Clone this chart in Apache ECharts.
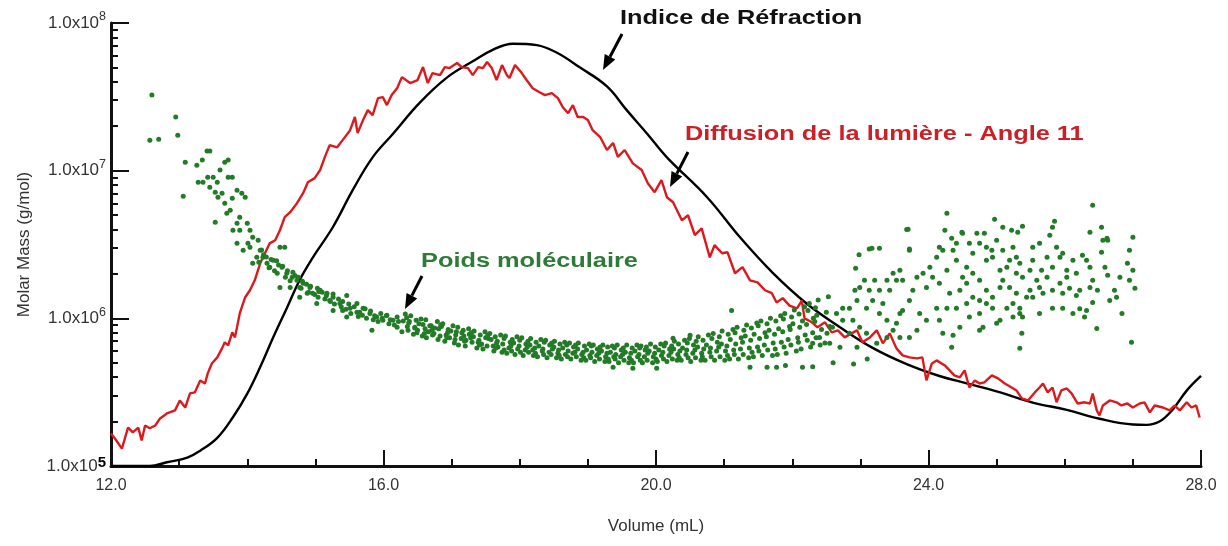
<!DOCTYPE html>
<html><head><meta charset="utf-8">
<script src="https://cdn.jsdelivr.net/npm/echarts@6/dist/echarts.min.js"></script>
<style>html,body{margin:0;padding:0;background:#fff}#c{width:1228px;height:546px}</style>
</head><body><div id="c"></div>
<script>
// ---------- data (Volume mL, Molar mass g/mol) ----------
const xTickValues = [12, 16, 20, 24, 28];
const yDecades = [1e5, 1e6, 1e7, 1e8];

const riCurve = [
[12.0,1.0e5],[12.57,1.0e5],[12.82,1.06e5],[13.12,1.14e5],[13.31,1.27e5],[13.56,1.55e5],[13.79,2.14e5],
[14.00,3.09e5],[14.19,4.68e5],[14.38,7.41e5],[14.58,1.17e6],[14.77,1.82e6],[14.96,2.57e6],[15.26,4.17e6],
[15.55,7.41e6],[15.84,1.23e7],[16.14,1.78e7],[16.53,2.88e7],[16.93,4.27e7],[17.31,5.50e7],[17.61,6.61e7],
[17.90,7.24e7],[18.25,7.08e7],[18.54,6.31e7],[18.88,5.01e7],[19.28,3.72e7],[19.57,2.57e7],[19.87,1.78e7],
[20.16,1.23e7],[20.75,6.61e6],[21.23,3.55e6],[21.71,2.04e6],[22.21,1.26e6],[22.70,8.71e5],[23.18,6.31e5],
[23.68,4.90e5],[24.16,4.07e5],[24.56,3.63e5],[25.04,3.16e5],[25.53,2.69e5],[26.03,2.40e5],[26.51,2.09e5],
[27.00,1.91e5],[27.20,1.90e5],[27.39,2.00e5],[27.58,2.40e5],[27.79,3.24e5],[28.0,4.07e5]
];

const lsCurve = [
[12.0,1.66e5],[12.06,1.53e5],[12.16,1.31e5],[12.25,1.82e5],[12.32,1.69e5],[12.40,1.82e5],[12.45,1.49e5],
[12.50,1.88e5],[12.57,1.80e5],[12.65,1.88e5],[12.72,2.10e5],[12.82,2.27e5],[12.94,2.38e5],[13.01,2.78e5],
[13.09,2.49e5],[13.16,3.10e5],[13.23,3.15e5],[13.31,3.80e5],[13.38,3.62e5],[13.42,4.24e5],[13.48,4.95e5],
[13.56,5.44e5],[13.63,6.26e5],[13.67,6.88e5],[13.72,6.56e5],[13.78,8.04e5],[13.82,7.43e5],[13.89,1.08e6],
[13.97,1.39e6],[14.04,1.55e6],[14.11,1.81e6],[14.19,2.36e6],[14.26,2.76e6],[14.33,3.22e6],[14.41,3.38e6],
[14.48,3.95e6],[14.55,4.84e6],[14.63,5.23e6],[14.73,6.02e6],[14.82,7.04e6],[14.89,8.35e6],[14.99,8.90e6],
[15.07,1.01e7],[15.14,1.24e7],[15.21,1.49e7],[15.32,1.44e7],[15.40,1.61e7],[15.51,1.88e7],[15.58,2.31e7],
[15.62,1.80e7],[15.70,2.20e7],[15.77,2.57e7],[15.84,2.38e7],[15.92,3.10e7],[15.99,3.15e7],[16.05,2.78e7],
[16.12,3.25e7],[16.20,3.62e7],[16.27,4.30e7],[16.39,3.92e7],[16.50,4.11e7],[16.58,5.03e7],[16.65,3.92e7],
[16.72,4.58e7],[16.83,4.44e7],[16.90,5.03e7],[16.97,4.95e7],[17.08,5.36e7],[17.15,5.03e7],[17.24,4.95e7],
[17.31,4.44e7],[17.39,5.03e7],[17.46,4.95e7],[17.52,5.44e7],[17.59,4.95e7],[17.66,4.11e7],[17.74,5.19e7],
[17.81,4.44e7],[17.85,4.24e7],[17.93,5.19e7],[18.03,4.58e7],[18.10,4.11e7],[18.19,3.62e7],[18.29,3.40e7],
[18.37,3.25e7],[18.47,3.35e7],[18.56,3.10e7],[18.63,2.70e7],[18.71,2.45e7],[18.78,2.78e7],[18.85,2.31e7],
[18.93,2.31e7],[19.00,2.20e7],[19.07,1.88e7],[19.18,1.69e7],[19.28,1.38e7],[19.37,1.54e7],[19.44,1.24e7],
[19.54,1.38e7],[19.66,1.12e7],[19.79,1.01e7],[19.88,8.22e6],[19.98,7.15e6],[20.08,8.63e6],[20.16,6.61e6],
[20.25,6.11e6],[20.38,4.61e6],[20.47,4.99e6],[20.57,3.66e6],[20.67,4.07e6],[20.79,2.59e6],[20.86,3.13e6],
[20.97,2.76e6],[21.05,2.80e6],[21.16,2.02e6],[21.27,2.22e6],[21.38,1.81e6],[21.49,1.75e6],[21.60,1.55e6],
[21.70,1.48e6],[21.77,1.28e6],[21.86,1.37e6],[21.96,1.22e6],[22.07,1.17e6],[22.14,1.32e6],[22.18,1.00e6],
[22.29,9.40e5],[22.37,8.69e5],[22.48,9.40e5],[22.58,8.04e5],[22.67,8.29e5],[22.77,7.43e5],[22.87,7.91e5],
[22.95,8.29e5],[23.03,6.88e5],[23.14,7.43e5],[23.24,8.29e5],[23.33,6.77e5],[23.43,7.91e5],[23.53,6.26e5],
[23.62,5.61e5],[23.72,5.44e5],[23.83,5.36e5],[23.91,5.44e5],[23.97,3.80e5],[24.05,4.95e5],[24.12,5.19e5],
[24.24,4.80e5],[24.31,4.44e5],[24.38,4.11e5],[24.46,3.98e5],[24.53,4.44e5],[24.60,3.40e5],[24.68,3.80e5],
[24.75,3.62e5],[24.82,3.68e5],[24.93,4.11e5],[25.02,3.92e5],[25.12,3.62e5],[25.22,3.40e5],[25.29,3.25e5],
[25.37,2.87e5],[25.46,2.78e5],[25.56,3.15e5],[25.63,3.40e5],[25.68,3.62e5],[25.75,3.15e5],[25.82,3.40e5],
[25.88,2.70e5],[25.95,3.25e5],[26.03,3.35e5],[26.10,3.10e5],[26.19,2.65e5],[26.29,2.70e5],[26.37,2.65e5],
[26.41,3.10e5],[26.47,2.38e5],[26.51,2.20e5],[26.56,2.57e5],[26.66,2.78e5],[26.76,2.70e5],[26.83,2.57e5],
[26.92,2.65e5],[27.00,2.49e5],[27.10,2.65e5],[27.17,2.70e5],[27.25,2.31e5],[27.32,2.57e5],[27.44,2.49e5],
[27.54,2.38e5],[27.61,2.57e5],[27.69,2.38e5],[27.79,2.70e5],[27.86,2.49e5],[27.93,2.57e5],[27.98,2.13e5]
];

const mwEarly = [
[12.60,3.25e7],[12.57,1.61e7],[12.70,1.63e7],[12.95,2.31e7],[12.98,1.74e7],[13.09,1.14e7],[13.06,6.71e6],
[13.26,1.09e7],[13.34,1.18e7],[13.41,1.36e7],[13.45,1.36e7],[13.28,8.35e6],[13.35,8.35e6],[13.42,9.04e6],
[13.50,9.04e6],[13.56,8.35e6],[13.45,7.73e6],[13.53,7.15e6],[13.57,6.61e6],[13.63,7.04e6],[13.67,1.14e7],
[13.72,1.18e7],[13.60,1.01e7],[13.72,9.04e6],[13.78,9.04e6],[13.85,7.38e6],[13.92,7.04e6],[13.97,6.61e6],
[13.78,6.51e6],[13.67,6.02e6],[13.75,5.40e6],[13.70,5.15e6],[13.53,4.48e6],[13.89,4.84e6],[13.85,4.40e6],
[13.79,3.95e6],[13.89,3.95e6],[14.00,4.40e6],[14.04,3.95e6],[14.08,3.54e6],[14.01,3.22e6],[13.85,3.22e6],
[13.94,2.89e6],[14.04,3.03e6],[14.16,3.38e6],[14.19,2.89e6],[14.14,2.59e6],[14.08,2.36e6],[14.23,2.59e6],
[14.29,2.36e6],[14.38,2.47e6],[14.48,3.03e6],[14.55,3.03e6],[14.33,2.22e6],[14.44,2.02e6],[14.51,2.22e6],
[14.48,1.62e6],[14.58,2.02e6],[14.66,1.90e6],[14.73,1.81e6],[14.77,1.62e6],[14.82,1.73e6],[14.92,1.62e6],
[14.88,1.48e6],[14.96,1.48e6],[15.04,1.39e6],[15.07,1.55e6],[15.17,1.48e6],[15.21,1.32e6],[15.26,1.39e6],
[15.36,1.26e6],[15.46,1.43e6],[15.40,1.13e6],[15.51,1.17e6],[15.61,1.26e6],[15.65,1.10e6],[15.70,1.17e6],
[15.80,1.08e6],[15.83,8.29e5],[15.90,1.02e6],[15.99,9.69e5],[16.05,1.05e6],[16.14,9.69e5],[16.20,8.69e5],
[15.46,1.02e6],[15.26,1.13e6],[15.02,1.26e6],[14.77,1.39e6],[14.63,1.62e6]
];

const mwBand = [
[14.17,2.4e6],[14.21,2.9e6],[14.24,2.7e6],[14.28,2.6e6],[14.32,2.2e6],[14.35,2.5e6],[14.40,2.1e6],[14.43,2.45e6],
[14.46,2.3e6],[14.52,2.25e6],[14.56,1.9e6],[14.59,2.1e6],[14.63,1.8e6],[14.67,2.05e6],[14.70,1.95e6],[14.75,1.9e6],
[14.79,1.6e6],[14.81,1.78e6],[14.87,1.7e6],[14.90,1.5e6],[14.93,1.65e6],[14.99,1.45e6],[15.03,1.6e6],[15.05,1.52e6],
[15.10,1.5e6],[15.14,1.35e6],[15.16,1.42e6],[15.22,1.3e6],[15.26,1.46e6],[15.28,1.25e6],[15.34,1.35e6],[15.38,1.2e6],
[15.40,1.3e6],[15.45,1.15e6],[15.49,1.25e6],[15.52,1.08e6],[15.57,1.2e6],[15.61,1.1e6],[15.63,1.03e6],[15.69,1.05e6],
[15.73,1.16e6],[15.75,1.0e6],[15.81,1.12e6],[15.85,9.8e5],[15.87,1.04e6],[15.92,9.5e5],[15.96,1.08e6],[15.98,1.0e6],
[16.04,1.04e6],[16.08,9.2e5],[16.10,9.8e5],[16.16,9.0e5],[16.20,1.02e6],[16.22,9.5e5],
[16.27,8.1e5],[16.32,1.07e6],[16.29,9.6e5],[16.35,8.8e5],[16.38,9.5e5],[16.44,7.8e5],[16.40,1.04e6],[16.46,8.7e5],
[16.50,8.3e5],[16.55,9.9e5],[16.57,7.6e5],[16.52,9.2e5],[16.62,9.8e5],[16.66,8.1e5],[16.68,8.9e5],[16.63,7.4e5],
[16.74,7.9e5],[16.79,9.5e5],[16.75,8.6e5],[16.80,7.2e5],[16.85,8.8e5],[16.90,7.0e5],[16.87,9.2e5],[16.92,7.7e5],
[16.97,7.4e5],[17.02,8.9e5],[17.04,6.8e5],[16.99,8.2e5],[17.09,8.7e5],[17.14,7.3e5],[17.10,6.6e5],[17.15,8.0e5],
[17.21,7.1e5],[17.25,8.5e5],[17.26,7.8e5],[17.20,6.5e5],[17.33,8.2e5],[17.37,6.3e5],[17.32,7.5e5],[17.39,6.9e5],
[17.44,6.7e5],[17.49,8.1e5],[17.46,6.2e5],[17.50,7.4e5],[17.56,7.9e5],[17.61,6.5e5],[17.58,7.2e5],[17.62,6.0e5],
[17.68,6.4e5],[17.72,7.7e5],[17.67,7.0e5],[17.74,5.9e5],[17.79,7.6e5],[17.84,6.3e5],[17.81,5.8e5],[17.86,6.9e5],
[17.91,6.8e5],[17.96,7.5e5],[17.93,5.7e5],[17.97,6.2e5],[18.03,7.4e5],[18.08,6.1e5],[18.05,5.6e5],[18.09,6.7e5],
[18.15,6.6e5],[18.20,5.6e5],[18.16,7.3e5],[18.19,6.1e5],[18.26,5.5e5],[18.31,7.2e5],[18.28,6.5e5],[18.33,6.0e5],
[18.38,7.1e5],[18.43,5.9e5],[18.40,5.4e5],[18.44,6.6e5],[18.50,6.4e5],[18.54,5.4e5],[18.51,7.0e5],[18.56,5.8e5],
[18.61,5.3e5],[18.66,6.9e5],[18.63,6.3e5],[18.67,5.7e5],[18.73,6.8e5],[18.78,5.8e5],[18.75,5.3e5],[18.79,6.4e5],
[18.85,6.2e5],[18.90,5.2e5],[18.86,6.8e5],[18.91,5.7e5],[18.97,5.2e5],[19.02,6.7e5],[18.98,6.1e5],[19.03,5.6e5],
[19.08,6.6e5],[19.13,5.6e5],[19.10,5.1e5],[19.14,6.2e5],[19.20,6.0e5],[19.25,5.1e5],[19.22,6.6e5],[19.26,5.5e5],
[19.31,5.1e5],[19.36,6.5e5],[19.33,5.9e5],[19.38,5.5e5],[19.43,6.6e5],[19.48,5.5e5],[19.45,5.0e5],[19.49,6.1e5],
[19.55,5.9e5],[19.60,5.0e5],[19.57,6.6e5],[19.61,5.4e5],[19.67,5.0e5],[19.72,6.6e5],[19.69,6.0e5],[19.73,5.5e5],
[19.78,6.5e5],[19.83,5.5e5],[19.80,5.0e5],[19.84,6.1e5],[19.90,6.0e5],[19.95,5.0e5],[19.92,6.7e5],[19.96,5.5e5],
[20.02,5.1e5],[20.07,6.7e5],[20.04,6.1e5],[20.08,5.6e5],[20.14,6.8e5],[20.19,5.6e5],[20.16,5.1e5],[20.20,6.2e5],
[20.26,6.2e5],[20.31,5.2e5],[20.27,7.0e5],[20.32,5.7e5],[20.37,5.2e5],[20.42,7.1e5],[20.39,6.3e5],[20.44,5.7e5],
[20.49,7.3e5],[20.54,5.8e5],[20.51,5.1e5],[20.55,6.6e5],[20.61,6.4e5],[20.66,5.2e5],[20.62,7.5e5],[20.67,5.8e5],
[20.72,5.2e5],[20.77,7.7e5],[20.74,6.6e5],[20.79,5.9e5],[20.84,7.9e5],[20.89,6.0e5],[20.86,5.2e5],[20.90,6.9e5],
[20.96,6.7e5],[21.01,5.2e5],[20.97,8.2e5],[21.02,6.0e5],[21.08,5.3e5],[21.13,8.4e5],[21.09,7.2e5],[21.14,6.1e5],
[21.19,8.7e5],[21.24,6.2e5],[21.21,5.3e5],[21.25,7.4e5],[21.31,7.6e5],[21.36,5.4e5],[21.33,9.0e5],[21.37,6.3e5],
[21.43,5.5e5],[21.48,9.3e5],[21.44,7.8e5],[21.49,6.4e5],[21.54,9.6e5],[21.59,6.6e5],[21.56,5.6e5],[21.60,8.0e5],
[21.66,8.3e5],[21.71,5.6e5],[21.68,1.0e6],[21.72,6.8e5],[21.78,5.7e5],[21.83,1.04e6],[21.80,8.5e5],[21.84,6.9e5],
[21.89,1.08e6],[21.94,7.2e5],[21.91,5.8e5],[21.96,8.8e5],[22.01,9.2e5],[22.06,6.0e5],[22.03,1.14e6],[22.08,7.4e5],
[22.13,6.2e5],[22.18,1.2e6],[22.15,9.6e5],[22.19,7.7e5],[22.25,1.26e6],[22.30,8.0e5],[22.27,6.4e5],[22.31,1.0e6],
[22.36,1.05e6],[22.41,6.6e5],[22.38,1.33e6],[22.43,8.4e5],[22.48,6.8e5],[22.53,1.4e6],[22.50,1.1e6],[22.55,8.8e5],
[21.11,1.13e6],[19.37,4.66e5],[19.66,4.6e5],[20.01,4.6e5],[21.38,4.66e5],[21.63,4.66e5],[21.77,4.66e5],[22.15,4.66e5],
[20.25,7.32e5],[20.50,7.67e5],[22.9,4.9e5],[23.1,5.3e5],[22.6,5.0e5],[21.9,4.8e5],[22.3,4.7e5]
];

const mwBandFill = [
[16.36,8.3e5],[16.37,9.3e5],[16.34,1.01e6],[16.48,9.7e5],[16.46,8.6e5],[16.49,8.0e5],[16.60,7.9e5],[16.58,9.1e5],
[16.61,8.5e5],[16.70,8.9e5],[16.72,7.7e5],[16.71,8.3e5],[16.83,7.6e5],[16.81,8.5e5],[16.84,9.0e5],[16.95,8.4e5],
[16.93,7.4e5],[16.94,8.0e5],[17.05,7.2e5],[17.07,8.1e5],[17.06,7.7e5],[17.17,8.3e5],[17.19,7.0e5],[17.18,7.6e5],
[17.30,6.9e5],[17.28,7.4e5],[17.29,8.0e5],[17.42,7.7e5],[17.40,7.1e5],[17.41,6.6e5],[17.52,6.5e5],[17.54,7.3e5],
[17.53,7.7e5],[17.64,7.5e5],[17.66,6.8e5],[17.65,6.3e5],[17.77,6.1e5],[17.75,6.7e5],[17.77,7.3e5],[17.89,7.2e5],
[17.87,6.5e5],[17.88,6.0e5],[18.01,5.9e5],[17.99,6.5e5],[18.00,7.1e5],[18.12,7.0e5],[18.11,6.4e5],[18.13,5.9e5],
[18.23,5.8e5],[18.22,6.3e5],[18.24,6.9e5],[18.36,6.9e5],[18.34,6.2e5],[18.35,5.7e5],[18.46,5.7e5],[18.48,6.2e5],
[18.47,6.8e5],[18.59,6.7e5],[18.57,6.1e5],[18.58,5.6e5],[18.70,5.5e5],[18.71,6.0e5],[18.69,6.6e5],[18.82,6.6e5],
[18.81,5.9e5],[18.83,5.5e5],[18.94,5.4e5],[18.93,5.9e5],[18.95,6.5e5],[19.05,6.5e5],[19.06,5.9e5],[19.04,5.4e5],
[19.17,5.3e5],[19.16,5.8e5],[19.18,6.4e5],[19.29,6.4e5],[19.28,5.8e5],[19.30,5.3e5],[19.40,5.3e5],[19.41,5.7e5],
[19.39,6.3e5],[19.52,6.3e5],[19.51,5.7e5],[19.53,5.2e5],[19.64,5.2e5],[19.63,5.8e5],[19.65,6.3e5],[19.76,6.3e5],
[19.75,5.7e5],[19.77,5.2e5],[19.87,5.2e5],[19.88,5.8e5],[19.86,6.4e5],[19.99,6.4e5],[19.98,5.8e5],[20.00,5.3e5],
[20.11,5.3e5],[20.10,5.9e5],[20.12,6.5e5],[20.23,6.5e5],[20.22,5.9e5],[20.24,5.3e5],[20.34,5.4e5],[20.35,6.0e5],
[20.33,6.7e5],[20.46,6.8e5],[20.45,6.1e5],[20.47,5.4e5],[20.58,5.4e5],[20.57,6.1e5],[20.59,7.0e5],[20.69,7.1e5],
[20.70,6.2e5],[20.68,5.5e5],[20.81,5.5e5],[20.80,6.3e5],[20.82,7.3e5],[20.93,7.5e5],[20.92,6.4e5],[20.94,5.5e5],
[21.05,5.6e5],[21.04,6.5e5],[21.06,7.8e5],[21.16,8.0e5],[21.17,6.7e5],[21.15,5.7e5],[21.28,5.7e5],[21.27,6.9e5],
[21.29,8.3e5],[21.40,8.6e5],[21.39,7.1e5],[21.41,5.9e5],[21.51,6.0e5],[21.52,7.3e5],[21.50,8.9e5],[21.63,9.2e5],
[21.62,7.5e5],[21.64,6.1e5],[21.75,6.2e5],[21.74,7.8e5],[21.76,9.6e5],[21.87,9.9e5],[21.86,8.1e5],[21.88,6.4e5],
[21.98,6.6e5],[21.97,8.4e5],[21.99,1.02e6],[22.10,1.07e6],[22.11,8.7e5],[22.09,6.9e5],[22.22,7.1e5],[22.21,9.1e5],
[22.23,1.13e6],[22.34,1.18e6],[22.33,9.5e5],[22.35,7.4e5]
];

const mwCloud = [
[24.27,5.15e6],[23.70,4.01e6],[23.17,2.98e6],[23.28,2.98e6],[23.72,2.89e6],[22.93,2.18e6],[24.24,3.95e6],
[24.49,3.83e6],[24.82,3.77e6],[24.97,4.69e6],[25.09,4.14e6],[25.22,3.95e6],[25.31,3.83e6],[25.38,4.21e6],
[25.85,4.55e6],[25.82,4.14e6],[26.41,5.83e6],[26.37,3.83e6],[26.54,4.14e6],[26.56,3.38e6],[26.63,3.38e6],
[27.00,3.54e6],[26.95,2.89e6],[27.00,2.12e6],[26.95,1.81e6],[27.03,1.60e6],[26.98,6.88e5],[26.84,1.08e6],
[26.73,1.55e6],[26.63,1.96e6],[26.59,2.22e6],[26.48,1.55e6],[26.47,8.55e5],[26.41,1.28e6],[26.37,1.62e6],
[26.29,1.02e6],[26.22,1.16e6],[26.17,1.43e6],[26.26,2.67e6],[26.32,2.47e6],[26.07,1.60e6],[26.03,1.90e6],
[25.97,1.48e6],[25.93,2.59e6],[26.03,2.12e6],[25.82,2.22e6],[25.74,1.90e6],[25.66,2.12e6],[25.59,1.81e6],
[25.53,3.03e6],[25.63,3.22e6],[25.78,3.66e6],[25.49,1.55e6],[25.38,1.90e6],[25.34,2.36e6],[25.29,2.59e6],
[25.24,3.03e6],[25.15,2.22e6],[25.05,2.12e6],[25.09,1.81e6],[25.19,1.62e6],[25.24,1.26e6],[25.34,1.08e6],
[25.37,7.91e5],[25.34,6.26e5],[25.38,1.02e6],[25.63,1.08e6],[25.53,1.39e6],[24.94,2.59e6],[24.93,2.89e6],
[24.85,2.47e6],[24.75,3.22e6],[24.65,2.76e6],[24.56,2.22e6],[24.50,1.90e6],[24.46,1.55e6],[24.56,1.73e6],
[24.65,2.02e6],[24.75,1.81e6],[24.85,1.55e6],[24.94,1.17e6],[25.05,9.69e5],[25.00,9.25e5],[24.80,8.69e5],
[24.75,8.29e5],[24.60,1.02e6],[24.46,8.69e5],[24.34,6.36e5],[24.36,7.67e5],[24.21,7.91e5],[24.16,9.69e5],
[24.12,1.17e6],[24.27,1.17e6],[24.41,1.17e6],[24.31,1.48e6],[24.16,1.73e6],[24.06,1.90e6],[23.97,1.62e6],
[23.92,2.02e6],[24.02,2.22e6],[24.12,2.59e6],[24.21,2.89e6],[24.36,2.89e6],[24.41,2.47e6],[24.27,2.12e6],
[23.83,1.90e6],[23.77,1.55e6],[23.72,1.32e6],[23.62,1.13e6],[23.53,9.25e5],[23.58,1.08e6],[23.87,1.08e6],
[23.97,9.69e5],[23.83,8.29e5],[23.72,7.43e5],[23.58,7.43e5],[23.48,8.29e5],[23.39,9.69e5],[23.28,1.08e6],
[23.33,1.26e6],[23.43,1.55e6],[23.53,1.81e6],[23.58,2.12e6],[23.62,1.81e6],[23.48,2.02e6],[23.39,1.81e6],
[23.28,1.55e6],[23.21,1.81e6],[23.13,1.55e6],[23.06,1.81e6],[22.99,1.62e6],[22.92,1.55e6],[22.95,1.32e6],
[23.09,1.17e6],[23.18,1.32e6],[22.84,1.17e6],[22.74,1.17e6],[22.65,1.08e6],[22.74,9.69e5],[22.89,9.69e5],
[22.99,8.69e5],[23.09,7.91e5],[22.84,7.91e5],[22.59,8.69e5],[22.51,7.91e5],[22.40,7.43e5],[22.30,6.77e5],
[22.55,6.77e5],[22.70,6.36e5],[22.95,6.36e5],[23.24,6.77e5],[23.39,7.43e5],[26.32,1.13e6],[26.41,1.81e6],
[26.76,1.39e6],[26.81,1.90e6],[26.66,1.32e6],[26.92,2.36e6],[26.54,2.80e6],[26.62,3.48e6],[26.37,2.22e6],
[26.17,2.02e6],[26.12,2.47e6],[25.97,2.76e6],[25.88,3.03e6],[25.74,2.59e6],[25.68,1.48e6],[25.82,1.55e6],
[25.93,1.73e6],[25.53,2.47e6],[25.49,2.12e6],[25.29,2.02e6],[25.19,2.47e6],[25.09,2.89e6],[25.00,3.38e6],
[24.85,3.03e6],[24.71,3.77e6],[24.60,3.22e6],[24.50,3.77e6],[24.41,3.22e6],[24.34,3.48e6],[24.16,3.03e6],
[25.34,1.17e6],[25.44,1.39e6],[25.24,1.02e6],[25.15,1.17e6],[24.94,1.39e6],[24.85,1.26e6],[24.75,1.32e6],
[24.65,1.39e6],[24.56,1.26e6],[24.75,1.08e6],[25.82,1.17e6],[25.97,1.17e6],[26.12,1.08e6],[26.22,1.55e6],
[25.63,1.62e6],[25.29,1.48e6],[25.05,1.62e6],[23.68,4.0e6],[23.72,2.95e6],[23.13,2.95e6],[22.98,2.7e6]
];

const mwPoints = mwEarly.concat(mwBand, mwBandFill, mwCloud);

// ---------- styling ----------
const FONT = '"Liberation Sans", Arial, sans-serif';
const RED = '#dc1a1e', RED_TXT = '#cc2027', GREEN = '#237a27', GREEN_TXT = '#2e7b38';
const AX = '#111';

// log-positions of minor ticks (2..9 within each decade) for overlay axis
const minorLog = [];
for (let d = 5; d < 8; d++) for (let k = 2; k <= 9; k++) minorLog.push(Math.log10(k) + d);

function arrow(x1, y1, x2, y2) {
  const ang = Math.atan2(y2 - y1, x2 - x1), L = 15, W = 6;
  const bx = x2 - L * Math.cos(ang), by = y2 - L * Math.sin(ang);
  const px = -Math.sin(ang) * W, py = Math.cos(ang) * W;
  return [
    { type: 'line', shape: { x1, y1, x2: bx, y2: by }, style: { stroke: '#000', lineWidth: 3 }, z: 100 },
    { type: 'polygon', shape: { points: [[x2, y2], [bx + px, by + py], [bx - px, by - py]] }, style: { fill: '#000' }, z: 100 }
  ];
}
function note(text, x, y, fill) {
  return { type: 'text', x, y, scaleX: 1.3, z: 100,
    style: { text, font: 'bold 19.5px ' + FONT, fill, verticalAlign: 'middle' } };
}

const chart = echarts.init(document.getElementById('c'), null, { renderer: 'canvas' });
chart.setOption({
  backgroundColor: '#fff',
  animation: false,
  grid: { left: 111, right: 27, top: 23, bottom: 80, containLabel: false },
  xAxis: {
    type: 'value', min: 12, max: 28, interval: 4,
    name: 'Volume (mL)', nameLocation: 'middle', nameGap: 52,
    nameTextStyle: { fontFamily: FONT, fontSize: 17, color: '#333' },
    axisLine: { show: true, onZero: false, lineStyle: { color: AX, width: 3 } },
    axisTick: { show: true, inside: true, length: 16, lineStyle: { color: AX, width: 2 } },
    minorTick: { show: true, splitNumber: 4, length: 7, lineStyle: { color: AX, width: 2 } },
    axisLabel: { fontFamily: FONT, fontSize: 16, color: '#333', margin: 12, formatter: v => v.toFixed(1) },
    splitLine: { show: false }
  },
  yAxis: [{
    type: 'log', logBase: 10, min: 1e5, max: 1e8,
    name: 'Molar Mass (g/mol)', nameLocation: 'middle', nameGap: 78,
    nameTextStyle: { fontFamily: FONT, fontSize: 17, color: '#333' },
    axisLine: { show: true, onZero: false, lineStyle: { color: AX, width: 3 } },
    axisTick: { show: true, inside: true, length: 18, lineStyle: { color: AX, width: 2 } },
    axisLabel: {
      margin: 5,
      formatter: v => {
        const e = Math.round(Math.log10(v));
        return e === 5 ? '{a|1.0x10}{b|5}' : '{a|1.0x10}{s|' + e + '}';
      },
      rich: {
        a: { fontFamily: FONT, fontSize: 17, color: '#333' },
        s: { fontFamily: FONT, fontSize: 12.5, color: '#333', padding: [0, 0, 12, 0] },
        b: { fontFamily: FONT, fontSize: 15, fontWeight: 'bold', color: '#000', padding: [0, 0, 6, 0] }
      }
    },
    splitLine: { show: false }
  }, {
    type: 'value', min: 5, max: 8, position: 'left',
    axisLine: { show: false },
    axisTick: { show: true, inside: true, length: 7, customValues: minorLog, lineStyle: { color: AX, width: 2 } },
    axisLabel: { show: false },
    splitLine: { show: false }
  }],
  series: [
    { name: 'Indice de Réfraction', type: 'line', data: riCurve, smooth: 0.4, showSymbol: false,
      lineStyle: { color: '#000', width: 2.4 }, z: 3 },
    { name: 'Diffusion de la lumière - Angle 11', type: 'line', data: lsCurve, showSymbol: false,
      lineStyle: { color: RED, width: 2.4 }, z: 4 },
    { name: 'Poids moléculaire', type: 'scatter', data: mwPoints, symbol: 'circle', symbolSize: 5,
      itemStyle: { color: GREEN, opacity: 1 }, z: 5 }
  ],
  graphic: [
    note('Indice de Réfraction', 620, 19, '#111'),
    note('Diffusion de la lumière - Angle 11', 685, 135, RED_TXT),
    note('Poids moléculaire', 421, 262, GREEN_TXT),
    ...arrow(622, 34, 603, 70),
    ...arrow(688, 152, 670, 187),
    ...arrow(422, 276, 405, 309)
  ]
});
</script>
</body></html>
